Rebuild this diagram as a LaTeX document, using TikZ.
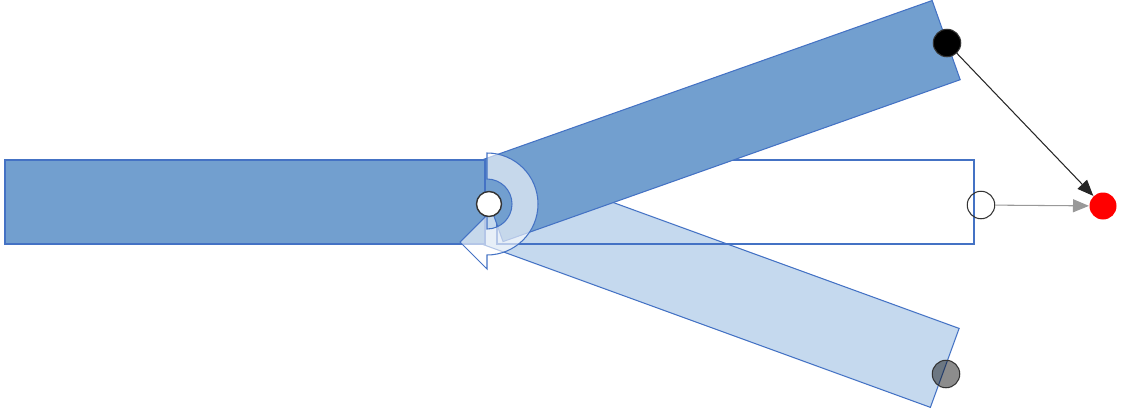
\documentclass[tikz,border=0pt]{standalone}
\usetikzlibrary{arrows.meta}
\definecolor{barfill}{RGB}{114,159,207}
\definecolor{barline}{RGB}{68,114,196}
\definecolor{ghostfill}{RGB}{197,217,238}

\begin{document}
\begin{tikzpicture}[x=0.02cm, y=-0.02cm,
  bar/.style={draw=barline, line width=0.6pt, fill=barfill},
  ghost/.style={draw=barline, line width=0.6pt, fill=ghostfill},
  frame/.style={draw=barline, line width=0.6pt},
  turn/.style={draw=barline, line width=0.6pt, fill=white, fill opacity=0.6},
  dot/.style={circle, inner sep=0pt, minimum size=0.55cm, draw=black!80, line width=0.6pt},
  link/.style={line width=0.6pt, -{Triangle[length=3.2mm, width=2.6mm]}}
]
  \useasboundingbox (0,0) rectangle (1123,413);
  \coordinate (pv) at (489,202);
  % bars
  \draw[ghost, rotate around={-20:(pv)}] (489,160) rectangle (974,244);
  \draw[frame] (497,160) rectangle (974,244);
  \draw[bar, rotate around={19.5:(pv)}] (489,160) rectangle (974,244);
  \draw[bar] (5,160) rectangle (485,244);
  % turning arrow
  \draw[turn] (487,153) arc[start angle=-90, end angle=90, radius=51]
    -- (487,269) -- (460,242) -- (487,215) -- (487,229)
    arc[start angle=90, end angle=-90, radius=25] -- cycle;
  % pins
  \node[dot, fill=white, minimum size=0.5cm, line width=0.8pt] (pin) at (489,204) {};
  \node[dot] (home) at (981,205) {};
  \node[dot, fill=black] (up) at (947,43) {};
  \node[dot, fill=black, fill opacity=0.45] (down) at (946,374) {};
  \node[dot, draw=none, fill=red, minimum size=0.54cm] (goal) at (1103,206) {};
  \draw[link, black!85] (up) -- (goal);
  \draw[link, gray!80] (home) -- (goal);
\end{tikzpicture}
\end{document}
